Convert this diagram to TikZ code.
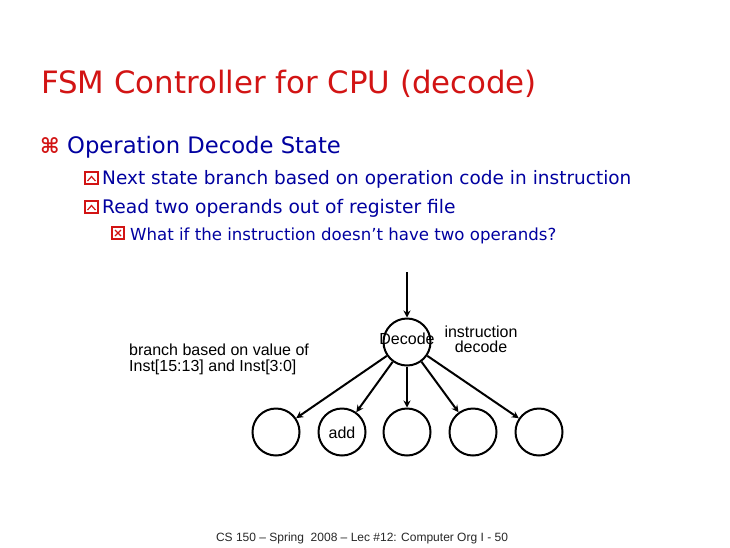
\documentclass[tikz,border=0pt]{standalone}
\usepackage{fontspec}
\setmainfont{DejaVu Sans}
\newfontfamily\labfont{Liberation Sans}
\usetikzlibrary{arrows.meta}
\definecolor{titlered}{RGB}{210,20,20}
\definecolor{textblue}{RGB}{0,0,160}
\definecolor{footgray}{RGB}{40,40,40}
\tikzset{
  state/.style={circle, draw=black, line width=2pt, minimum size=47pt, inner sep=0pt},
  trans/.style={line width=2pt, -{Stealth[length=7pt,width=7pt]}},
  lab/.style={font=\labfont\fontsize{16}{15.5}\selectfont, inner sep=0pt},
  bline/.style={anchor=base west, inner sep=0pt, text=textblue},
  bullbox/.style={draw=titlered, line width=1.3pt, fill=white},
  bullmark/.style={draw=titlered, line width=1.2pt}
}
\begin{document}
\begin{tikzpicture}[x=1pt,y=-1pt]
\useasboundingbox[fill=white] (0,0) rectangle (730,547);
% title
\node[anchor=base west, inner sep=0pt, text=titlered, font=\fontsize{30.8}{34}\selectfont] (title) at (41,93) {FSM Controller for CPU (decode)};
% level 1 bullet
\node[anchor=base west, inner sep=0pt, text=titlered, font=\bfseries\fontsize{21}{24}\selectfont] (b1) at (40,153) {⌘};
\node[bline, font=\fontsize{22.7}{26}\selectfont] (l1) at (67,153) {Operation Decode State};
% level 2 bullets
\draw[bullbox] (85,172) rectangle (98,184);
\draw[bullmark] (87.5,181) -- (91.5,176.5) -- (95.5,181);
\node[bline, font=\fontsize{18.5}{21}\selectfont] (l2) at (102,184) {Next state branch based on operation code in instruction};
\draw[bullbox] (85,201) rectangle (98,213);
\draw[bullmark] (87.5,210) -- (91.5,205.5) -- (95.5,210);
\node[bline, font=\fontsize{18.7}{21}\selectfont] (l3) at (102,213) {Read two operands out of register file};
% level 3 bullet
\draw[bullbox] (112,227) rectangle (124,239);
\draw[bullmark] (115,230) -- (121,236) (121,230) -- (115,236);
\node[bline, font=\fontsize{16.6}{19}\selectfont] (l4) at (130,240) {What if the instruction doesn’t have two operands?};
% diagram
\coordinate (in) at (407,272);
\node[state] (dec) at (407,342) {};
\node[lab] (declab) at (407,339) {Decode};
\node[state] (s1) at (276,432) {};
\node[state] (s2) at (342,432) {};
\node[lab] (addlab) at (342,433) {add};
\node[state] (s3) at (407,432) {};
\node[state] (s4) at (473,432) {};
\node[state] (s5) at (539,432) {};
\draw[trans] (in) -- (dec);
\draw[trans] (dec) -- (s1);
\draw[trans] (dec) -- (s2);
\draw[trans] (dec) -- (s3);
\draw[trans] (dec) -- (s4);
\draw[trans] (dec) -- (s5);
\node[lab, align=center, font=\labfont\fontsize{16}{15}\selectfont] (instlab) at (481,339) {instruction\\decode};
\node[lab, align=left, anchor=base west] (brlab) at (129,371) {branch based on value of\\Inst[15:13] and Inst[3:0]};
% footer
\node[anchor=base, inner sep=0pt, text=footgray, font=\labfont\fontsize{12}{13}\selectfont] (foot) at (362,541) {CS 150 – Spring\ \ 2008 – Lec \#12: Computer Org I - 50};
\end{tikzpicture}
\end{document}
